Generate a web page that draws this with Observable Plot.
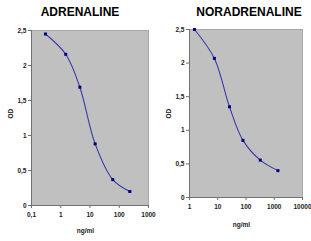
<!DOCTYPE html>
<html><head><meta charset="utf-8">
<script src="https://cdn.jsdelivr.net/npm/d3@7"></script>
<script src="https://cdn.jsdelivr.net/npm/@observablehq/plot@0.6"></script>
<style>
html,body{margin:0;padding:0;background:#fff;}
#wrap{position:relative;width:311px;height:241px;overflow:hidden;}
#left{position:absolute;left:0;top:0;}
#right{position:absolute;left:155px;top:0;}
svg{overflow:visible;}
</style></head>
<body><div id="wrap"><div id="left"></div><div id="right"></div></div>
<script>
const adrConc = [0.3, 1.48, 4.5, 15, 60, 230];
const adrOD = [2.45, 2.16, 1.69, 0.88, 0.37, 0.20];
const noradConc = [1.5, 7.6, 26, 78, 320, 1350];
const noradOD = [2.5, 2.07, 1.35, 0.85, 0.556, 0.40];
const yTicks = [0, 0.5, 1, 1.5, 2, 2.5];
const adrXTicks = [0.1, 1, 10, 100, 1000];
const noradXTicks = [1, 10, 100, 1000, 10000];
const titles = ["ADRENALINE", "NORADRENALINE"];
const xLabel = "ng/ml";
const yLabel = "OD";

const fmt = d => String(d).replace(".", ",");

function chart({conc, od, xTicks, title, width, mt, mb, ml, mr, titleDx, titleDy, xlDx, xlDy, ylDx, ylDy}) {
  const data = conc.map((c, i) => ({c, v: od[i]}));
  const font = "Liberation Sans, Arial, sans-serif";
  return Plot.plot({
    width, height: 241,
    marginTop: mt, marginBottom: mb, marginLeft: ml, marginRight: mr,
    style: {fontFamily: font, fontSize: "6.5px", fontWeight: "bold", color: "#222", background: "transparent"},
    x: {type: "log", domain: [xTicks[0], xTicks[xTicks.length - 1]]},
    y: {domain: [0, 2.5]},
    marks: [
      Plot.frame({fill: "#c0c0c0", stroke: "#a8a8a8"}),
      Plot.ruleX([xTicks[0]], {stroke: "#707070", strokeWidth: 1}),
      Plot.ruleY([0], {stroke: "#707070", strokeWidth: 1}),
      Plot.axisX({ticks: xTicks, tickFormat: fmt, tickSize: 3, tickPadding: 4, label: null, stroke: "#707070"}),
      Plot.axisY({ticks: yTicks, tickFormat: fmt, tickSize: 3, tickPadding: 2, label: null, stroke: "#707070"}),
      Plot.line(data, {x: "c", y: "v", curve: "catmull-rom", stroke: "#3a3aa8", strokeWidth: 1.1}),
      Plot.dot(data, {x: "c", y: "v", symbol: "square", r: 1.7, fill: "#000080", stroke: "none"}),
      Plot.text([title], {frameAnchor: "top", lineAnchor: "middle", dx: titleDx, dy: titleDy, fontSize: 12, fontWeight: "bold", fill: "#000"}),
      Plot.text([xLabel], {frameAnchor: "bottom", lineAnchor: "middle", dx: xlDx, dy: xlDy, fontSize: 6.5, fill: "#222"}),
      Plot.text([yLabel], {frameAnchor: "left", rotate: -90, dx: ylDx, dy: ylDy, fontSize: 6.5, fill: "#222"})
    ]
  });
}

document.getElementById("left").append(chart({
  conc: adrConc, od: adrOD, xTicks: adrXTicks, title: titles[0], width: 155,
  mt: 30, mb: 36, ml: 31, mr: 7, titleDx: -10, titleDy: -18.3, xlDx: -4.5, xlDy: 25, ylDx: -21, ylDy: 0.5
}));
document.getElementById("right").append(chart({
  conc: noradConc, od: noradOD, xTicks: noradXTicks, title: titles[1], width: 156,
  mt: 29, mb: 44, ml: 34, mr: 9, titleDx: 3, titleDy: -17.3, xlDx: -4.5, xlDy: 27, ylDx: -21, ylDy: 5
}));
</script></body></html>
